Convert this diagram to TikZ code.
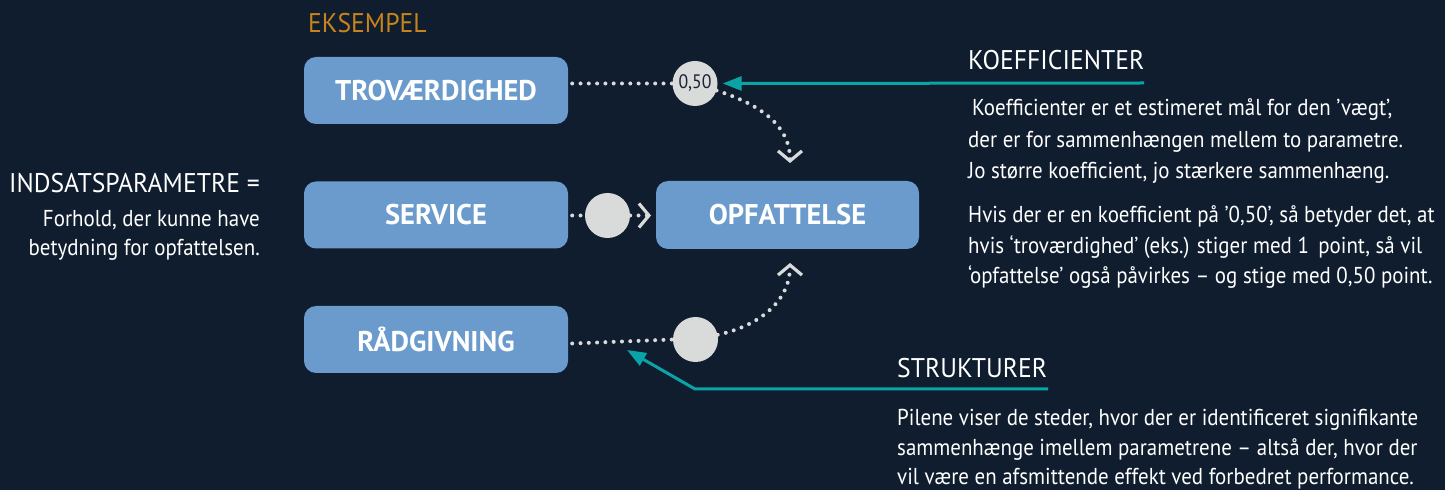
\documentclass[tikz,border=0pt]{standalone}
\usepackage{fontspec}
\setmainfont{PT Sans}[FakeStretch=0.91]
\newfontfamily\headfont{PT Sans}[FakeStretch=0.95]
\newfontfamily\boxfont{PT Sans}
\usetikzlibrary{arrows.meta}
\definecolor{bgnavy}{HTML}{0F1D2E}
\definecolor{boxblue}{HTML}{6A9BCC}
\definecolor{dotgrey}{HTML}{D9DADA}
\definecolor{tealline}{HTML}{0AA4A6}
\definecolor{ochre}{HTML}{C8841A}
\definecolor{inkdark}{HTML}{1A2433}
\tikzset{
  param/.style={draw=none, fill=boxblue, rounded corners=12pt, minimum width=264pt,
    minimum height=67pt, inner sep=0pt, text=white, font=\boxfont\fontsize{28.5}{30}\selectfont\bfseries},
  weight/.style={circle, fill=dotgrey, minimum size=45pt, inner sep=0pt,
    text=inkdark, font=\fontsize{19.5}{22}\selectfont},
  dotpath/.style={dotgrey, line width=4pt, line cap=round, dash pattern=on 0pt off 8.3pt},
  chevron/.style={-{Straight Barb[length=10pt,width=24pt,line width=3.2pt]}},
  callout/.style={tealline, line width=3pt},
  body/.style={anchor=base west, inner sep=0pt, text=white, font=\fontsize{23}{25}\selectfont},
  heading/.style={anchor=base west, inner sep=0pt, text=white, font=\headfont\fontsize{27}{29}\selectfont},
}
\begin{document}
\begin{tikzpicture}[x=1pt,y=1pt]
\fill[bgnavy] (0,0) rectangle (1445,490);
\useasboundingbox (0,0) rectangle (1445,490);

% parameter boxes
\node[param] (trov) at (436,399.5) {TROVÆRDIGHED};
\node[param] (serv) at (436,275) {SERVICE};
\node[param] (raad) at (436,150.5) {RÅDGIVNING};
\node[param, minimum width=263pt, minimum height=68pt] (opf) at (787.5,275) {OPFATTELSE};

\node[heading, text=ochre] (eks) at (308,457) {EKSEMPEL};

% weights on the paths
\node[weight] (w1) at (695,406.5) {0,50};
\node[weight] (w2) at (607.5,274.5) {};
\node[weight] (w3) at (695.5,150.5) {};

% dotted paths towards OPFATTELSE
\coordinate (t1) at (790,327);
\coordinate (t2) at (651,274.5);
\coordinate (t3) at (790,227);
\draw[dotpath] ([xshift=4pt]trov.east |- w1.west) -- (w1.west);
\draw[dotpath, chevron] (w1.-18) to[out=-18, in=90] (t1);
\draw[dotpath] ([xshift=4pt]serv.east |- w2.west) -- (w2.west);
\draw[dotpath, chevron] (w2.east) -- (t2);
\draw[dotpath] ([xshift=4pt,yshift=-4pt]raad.east) -- (w3.west);
\draw[dotpath, chevron] (w3.12) to[out=12, in=-90] (t3);

% left explanation
\node[heading, anchor=base east] (ind) at (260,297) {INDSATSPARAMETRE =};
\node[body, anchor=base east] (ind2) at (260,263) {Forhold, der kunne have};
\node[body, anchor=base east] (ind3) at (260,234) {betydning for opfattelsen.};

% coefficient callout
\node[heading] (koef) at (968,420) {KOEFFICIENTER};
\coordinate (kline) at (1144,407);
\draw[callout, -{Triangle[length=19pt,width=14pt]}] (kline) -- ([xshift=5pt]w1.east);
\node[body] (k1) at (972,374) {Koefficienter er et estimeret mål for den ’vægt’,};
\node[body] (k2) at (968,342.5) {der er for sammenhængen mellem to parametre.};
\node[body] (k3) at (968,311) {Jo større koefficient, jo stærkere sammenhæng.};
\node[body] (k4) at (968,267) {Hvis der er en koefficient på ’0,50’, så betyder det, at};
\node[body] (k5) at (968,236.5) {hvis ‘troværdighed’ (eks.) stiger med 1\, point, så vil};
\node[body] (k6) at (968,206) {‘opfattelse’ også påvirkes – og stige med 0,50 point.};

% structure callout
\node[heading] (str) at (897,112) {STRUKTURER};
\coordinate (sline) at (1048,101);
\coordinate (sbend) at (695,101);
\coordinate (stip) at (627,140);
\draw[callout, -{Triangle[length=19pt,width=14pt]}] (sline) -- (sbend) -- (stip);
\node[body] (s1) at (897,65) {Pilene viser de steder, hvor der er identificeret signifikante};
\node[body] (s2) at (897,35) {sammenhænge imellem parametrene – altså der, hvor der};
\node[body] (s3) at (897,6) {vil være en afsmittende effekt ved forbedret performance.};
\end{tikzpicture}
\end{document}
